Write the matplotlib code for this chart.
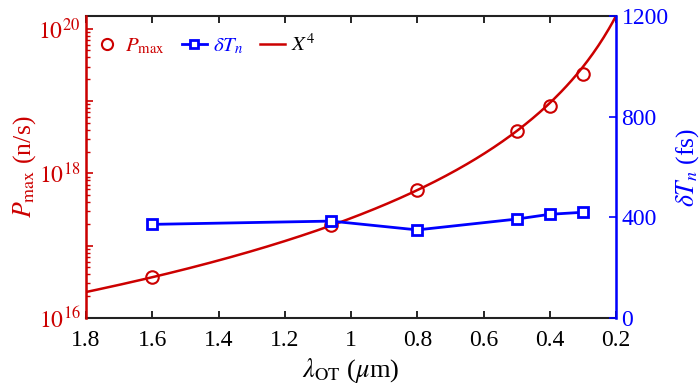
import numpy as np
import matplotlib
matplotlib.use("Agg")
import matplotlib.pyplot as plt
from matplotlib.ticker import LogLocator, FuncFormatter, NullFormatter

plt.rcParams['font.family'] = ['Liberation Serif', 'DejaVu Serif']
plt.rcParams['mathtext.fontset'] = 'stix'

# data
wavelength = [1.6, 1.06, 0.8, 0.5, 0.4, 0.3]          # um
p_max = [3.66e16, 1.93e17, 5.9e17, 3.9e18, 8.5e18, 2.4e19]   # n/s
delta_t = [372, 385, 350, 393, 412, 420]              # fs
fit_coef = 2.4e17                                     # X^4 curve: coef / lambda^4

red = '#CC0000'
blue = '#0000FF'

fig = plt.figure(figsize=(7, 3.84), dpi=100)
ax = fig.add_axes([0.1229, 0.1719, 0.7571, 0.7865])
ax2 = ax.twinx()

lam = np.linspace(0.2, 1.8, 300)
ax.plot(wavelength, p_max, 'o', color=red, mfc='none', ms=9, mew=1.5)
ax.plot(lam, fit_coef / lam**4, '-', color=red, lw=1.8)
ax2.plot(wavelength, delta_t, '-s', color=blue, mfc='white', ms=7, mew=2, lw=2)

ax.set_yscale('log')
ax.set_ylim(1e16, 1.5e20)
ax.set_xlim(1.8, 0.2)
ax2.set_ylim(0, 1200)
ax2.set_yticks([0, 400, 800, 1200])

ax.set_xticks([1.8, 1.6, 1.4, 1.2, 1.0, 0.8, 0.6, 0.4, 0.2])
ax.set_xticklabels(['1.8', '1.6', '1.4', '1.2', '1', '0.8', '0.6', '0.4', '0.2'])

ax.yaxis.set_major_locator(LogLocator(base=10, numticks=10))
ax.yaxis.set_minor_locator(LogLocator(base=10, subs=np.arange(2, 10), numticks=20))
ax.yaxis.set_minor_formatter(NullFormatter())


def dec_label(v, pos):
    e = int(round(np.log10(v)))
    return r'$10^{%d}$' % e if e % 2 == 0 else ''


ax.yaxis.set_major_formatter(FuncFormatter(dec_label))

ax.tick_params(axis='x', which='both', direction='in', top=True, length=5,
               width=1.2, labelsize=17, pad=9)
ax.tick_params(axis='y', which='major', direction='in', length=5, width=1.2,
               colors=red, labelsize=17, pad=4)
ax.tick_params(axis='y', which='minor', direction='in', length=3, width=1,
               colors=red)
ax2.tick_params(axis='y', direction='in', length=5, width=1.2, colors=blue,
                labelsize=17, pad=4)

for side in ['top', 'bottom']:
    ax.spines[side].set_color('#222222')
    ax.spines[side].set_linewidth(1.5)
ax2.spines['left'].set_color(red)
ax2.spines['left'].set_linewidth(1.8)
ax2.spines['right'].set_color(blue)
ax2.spines['right'].set_linewidth(1.8)
ax2.spines['top'].set_visible(False)
ax2.spines['bottom'].set_visible(False)

ax.set_xlabel(r'$\lambda_{\rm OT}$ ($\mu$m)', fontsize=19, labelpad=3)
ax.set_ylabel(r'$P_{\rm max}$ (n/s)', fontsize=18.5, color=red, labelpad=0)
ax2.set_ylabel(r'$\delta T_n$ (fs)', fontsize=18.5, color=blue, labelpad=4)

# legend built by hand from proxies
h1, = ax.plot([], [], 'o', color=red, mfc='none', ms=8, mew=1.5)
h2, = ax.plot([], [], '-s', color=blue, mfc='white', ms=6, mew=2, lw=2)
h3, = ax.plot([], [], '-', color=red, lw=1.8)
leg = ax.legend([h1, h2, h3], [r'$P_{\rm max}$', r'$\delta T_n$', r'$X^4$'],
                loc='upper left', ncol=3, frameon=False, fontsize=15,
                handlelength=1.2, handletextpad=0.3, columnspacing=0.8,
                bbox_to_anchor=(-0.02, 1.0))
for txt, c in zip(leg.get_texts(), [red, blue, 'black']):
    txt.set_color(c)

fig.savefig('out.png', dpi=100)
